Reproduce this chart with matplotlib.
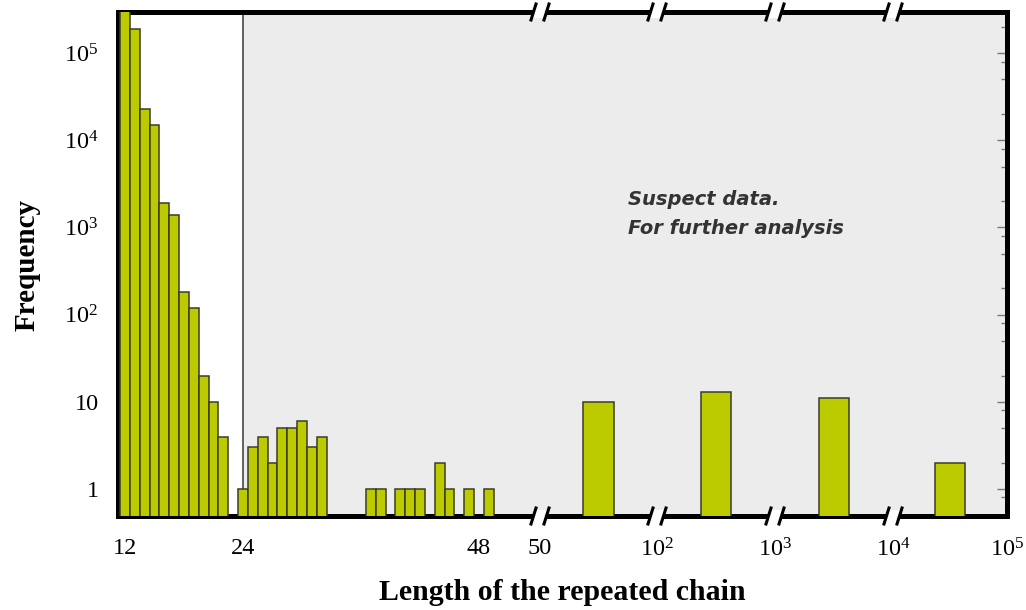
import matplotlib
matplotlib.use("Agg")
import matplotlib.pyplot as plt
from matplotlib.ticker import FixedLocator, LogLocator, NullLocator, NullFormatter
from matplotlib.patches import Polygon
from matplotlib.lines import Line2D

plt.rcParams['font.family'] = 'Liberation Serif'
plt.rcParams['mathtext.fontset'] = 'custom'
plt.rcParams['mathtext.rm'] = 'Liberation Serif'

# short chains: one bar per length
short_len = [12, 13, 14, 15, 16, 17, 18, 19, 20, 21, 22,
             24, 25, 26, 27, 28, 29, 30, 31, 32,
             37, 38, 40, 41, 42, 44, 45, 47, 49]
short_freq = [340000, 190000, 23000, 15000, 1900, 1400, 180, 120, 20, 10, 4,
              1, 3, 4, 2, 5, 5, 6, 3, 4,
              1, 1, 1, 1, 1, 2, 1, 1, 1]

# long chains: one bar per (log) bin
long_lo = [50, 1e2, 1e3, 1e4]
long_hi = [1e2, 1e3, 1e4, 1e5]
long_freq = [10, 13, 11, 2]
long_ticks = [[50], [1e2], [1e3], [1e4, 1e5]]
long_ticklabels = [['50'], [r'$\mathregular{10^2}$'], [r'$\mathregular{10^3}$'],
                   [r'$\mathregular{10^4}$', r'$\mathregular{10^5}$']]

short_ticks = [12, 24, 48]
cutoff = 24

y_ticks = [1, 10, 1e2, 1e3, 1e4, 1e5]
y_ticklabels = ['1', '10', r'$\mathregular{10^2}$', r'$\mathregular{10^3}$',
                r'$\mathregular{10^4}$', r'$\mathregular{10^5}$']

bar_color = '#bccb00'
bar_edge = '#3c3c28'
shade = '#ececec'
tick_size = 17.5

W, H = 1026, 610
fig = plt.figure(figsize=(W / 100, H / 100), dpi=100)

# panel edges in pixels
edges = [118, 540, 657, 775, 893, 1007]
y_top, y_bot = 12, 516


def rect(x0, x1):
    return [x0 / W, 1 - y_bot / H, (x1 - x0) / W, (y_bot - y_top) / H]


axes = [fig.add_axes(rect(edges[i], edges[i + 1])) for i in range(5)]

for ax in axes:
    ax.set_yscale('log')
    ax.set_ylim(0.49, 2.96e5)
    for s in ax.spines.values():
        s.set_linewidth(3.6)
        s.set_color('black')
    ax.tick_params(axis='x', which='both', length=0, pad=16, labelsize=tick_size)
    ax.tick_params(axis='y', which='both', left=False, right=False,
                   labelleft=False, labelright=False)

# short-chain panel
ax0 = axes[0]
ax0.axvspan(cutoff, 60, color=shade, zorder=0, lw=0)
ax0.axvline(cutoff, color='#555555', lw=1.3, zorder=1)
ax0.bar(short_len, short_freq, width=1.0, color=bar_color,
        edgecolor=bar_edge, linewidth=1.1, zorder=3)
ax0.set_xlim(11.29, 54.2)
ax0.set_xticks(short_ticks)
ax0.spines['right'].set_visible(False)

ax0.yaxis.set_major_locator(FixedLocator(y_ticks))
ax0.set_yticklabels(y_ticklabels)
ax0.yaxis.set_minor_locator(LogLocator(base=10, subs=[2, 5, 8], numticks=20))
ax0.yaxis.set_minor_formatter(NullFormatter())
ax0.tick_params(axis='y', which='both', left=True, labelleft=True,
                direction='in', color='#777777', labelsize=tick_size, pad=14)
ax0.tick_params(axis='y', which='major', length=7, width=1)
ax0.tick_params(axis='y', which='minor', length=4, width=1)

# long-chain panels, log x within each bin
for i, ax in enumerate(axes[1:]):
    lo, hi = long_lo[i], long_hi[i]
    ax.set_facecolor(shade)
    ax.set_xscale('log')
    ax.set_xlim(lo, hi)
    left = lo * (hi / lo) ** 0.37
    right = lo * (hi / lo) ** 0.63
    ax.bar([left], [long_freq[i]], width=[right - left], align='edge',
           color=bar_color, edgecolor=bar_edge, linewidth=1.1, zorder=3)
    ax.xaxis.set_major_locator(FixedLocator(long_ticks[i]))
    ax.set_xticklabels(long_ticklabels[i])
    ax.xaxis.set_minor_locator(NullLocator())
    ax.yaxis.set_major_locator(FixedLocator(y_ticks))
    ax.yaxis.set_minor_locator(LogLocator(base=10, subs=[2, 5, 8], numticks=20))
    ax.yaxis.set_minor_formatter(NullFormatter())
    ax.spines['left'].set_visible(False)
    if i < 3:
        ax.spines['right'].set_visible(False)

axes[-1].tick_params(axis='y', which='both', right=True, direction='in',
                     color='#777777')
axes[-1].tick_params(axis='y', which='major', length=7, width=1)
axes[-1].tick_params(axis='y', which='minor', length=4, width=1)

# break marks on the top and bottom frame lines
for xb in edges[1:5]:
    for yb in (y_top, y_bot):
        yf = H - yb
        gap = [(xb - 9, yf - 6), (xb + 4, yf - 6), (xb + 9, yf + 6), (xb - 4, yf + 6)]
        fig.add_artist(Polygon([(x / W, y / H) for x, y in gap], closed=True,
                               transform=fig.transFigure, facecolor='white',
                               edgecolor='none', zorder=5))
        for dx in (-6.5, 6.5):
            xs = [(xb + dx - 2.5) / W, (xb + dx + 2.5) / W]
            ys = [(yf - 8) / H, (yf + 8) / H]
            fig.add_artist(Line2D(xs, ys, transform=fig.transFigure,
                                  color='black', lw=2.2, zorder=6))

note_kw = dict(family='DejaVu Sans', weight='bold', style='italic',
               fontsize=14, color='#333333', ha='left', va='center')
fig.text(628 / W, 1 - 200 / H, 'Suspect data.', **note_kw)
fig.text(628 / W, 1 - 229 / H, 'For further analysis', **note_kw)

fig.text(562 / W, 1 - 593 / H, 'Length of the repeated chain', fontsize=21.5,
         weight='bold', ha='center', va='center')
fig.text(27 / W, 1 - 265 / H, 'Frequency', fontsize=21, weight='bold',
         rotation=90, ha='center', va='center')

fig.savefig('out.png', dpi=100)
